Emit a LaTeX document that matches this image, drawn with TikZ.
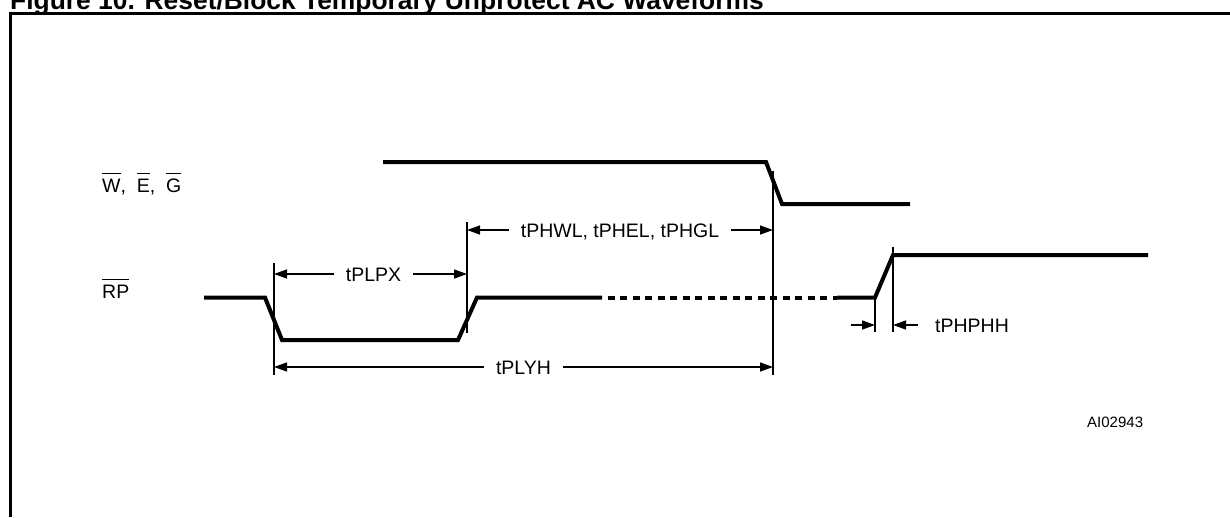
\documentclass[tikz,border=0pt]{standalone}
\usepackage{fontspec}
\setmainfont{Liberation Sans}
\usetikzlibrary{arrows.meta,positioning,calc}
\newcommand{\ovl}[1]{\setbox0\hbox{#1}\rlap{\rule[18pt]{\wd0}{1.3pt}}\box0}
\begin{document}
\begin{tikzpicture}[x=1pt,y=-1pt,
    sig/.style={line width=4pt,line join=miter},
    guide/.style={line width=2pt},
    dimarr/.style={line width=1.4pt,-{Triangle[length=13pt,width=9pt]}},
    lbl/.style={inner xsep=12pt,inner ysep=0pt,text height=14pt,text depth=0pt,font=\fontsize{19.5}{22}\selectfont}]
  \useasboundingbox (0,0) rectangle (1230,517);
  \node[anchor=base west,inner sep=0pt,font=\fontsize{26.4}{30}\selectfont\bfseries] (title) at (10,9.5) {Figure 10. Reset/Block Temporary Unprotect AC Waveforms};
  \draw[line width=3pt] (10.5,517) -- (10.5,13.5) -- (1230,13.5);

  \node[anchor=base west,inner sep=0pt,font=\fontsize{19.5}{22}\selectfont] (wlbl) at (102,192) {\ovl{W},\ \ \ovl{E},\ \ \ovl{G}};
  \node[anchor=base west,inner sep=0pt,font=\fontsize{19.5}{22}\selectfont] (rplbl) at (102,298) {\ovl{RP}};

  \draw[sig] (383,162) -- (766,162) -- (782,204) -- (910,204);
  \draw[sig] (204,297.5) -- (265,297.5) -- (282,340) -- (458,340) -- (477,297.5) -- (602,297.5);
  \draw[sig,dash pattern=on 7pt off 5.5pt,dash phase=7pt] (602,297.5) -- (837,297.5);
  \draw[sig] (837,297.5) -- (875,297.5) -- (893,255) -- (1148,255);

  \coordinate (g1t) at (274,263);  \coordinate (g1b) at (274,375);
  \coordinate (g2t) at (467,222);  \coordinate (g2b) at (467,333);
  \coordinate (g3t) at (773,171);  \coordinate (g3b) at (773,375);
  \coordinate (g4t) at (875,297);  \coordinate (g4b) at (875,332);
  \coordinate (g5t) at (893,247);  \coordinate (g5b) at (893,332);
  \foreach \g in {g1,g2,g3,g4,g5}
    \draw[guide] (\g t) -- (\g b);

  \node[lbl] (tplpx) at (373.5,274) {tPLPX};
  \node[lbl] (tphwl) at (620,230) {tPHWL, tPHEL, tPHGL};
  \node[lbl] (tplyh) at (523.5,367) {tPLYH};
  \node[lbl,anchor=west,inner xsep=0pt] (tphphh) at (935,325) {tPHPHH};
  \node[anchor=base west,inner sep=0pt,font=\fontsize{15}{18}\selectfont] (code) at (1087,427) {AI02943};

  \draw[dimarr] (tplpx.west) -- (tplpx.west -| g1t);
  \draw[dimarr] (tplpx.east) -- (tplpx.east -| g2t);
  \draw[dimarr] (tphwl.west) -- (tphwl.west -| g2t);
  \draw[dimarr] (tphwl.east) -- (tphwl.east -| g3t);
  \draw[dimarr] (tplyh.west) -- (tplyh.west -| g1t);
  \draw[dimarr] (tplyh.east) -- (tplyh.east -| g3t);
  \coordinate (p1) at (851,325);
  \coordinate (p2) at (918,325);
  \draw[dimarr] (p1) -- (p1 -| g4t);
  \draw[dimarr] (p2) -- (p2 -| g5t);
\end{tikzpicture}
\end{document}
